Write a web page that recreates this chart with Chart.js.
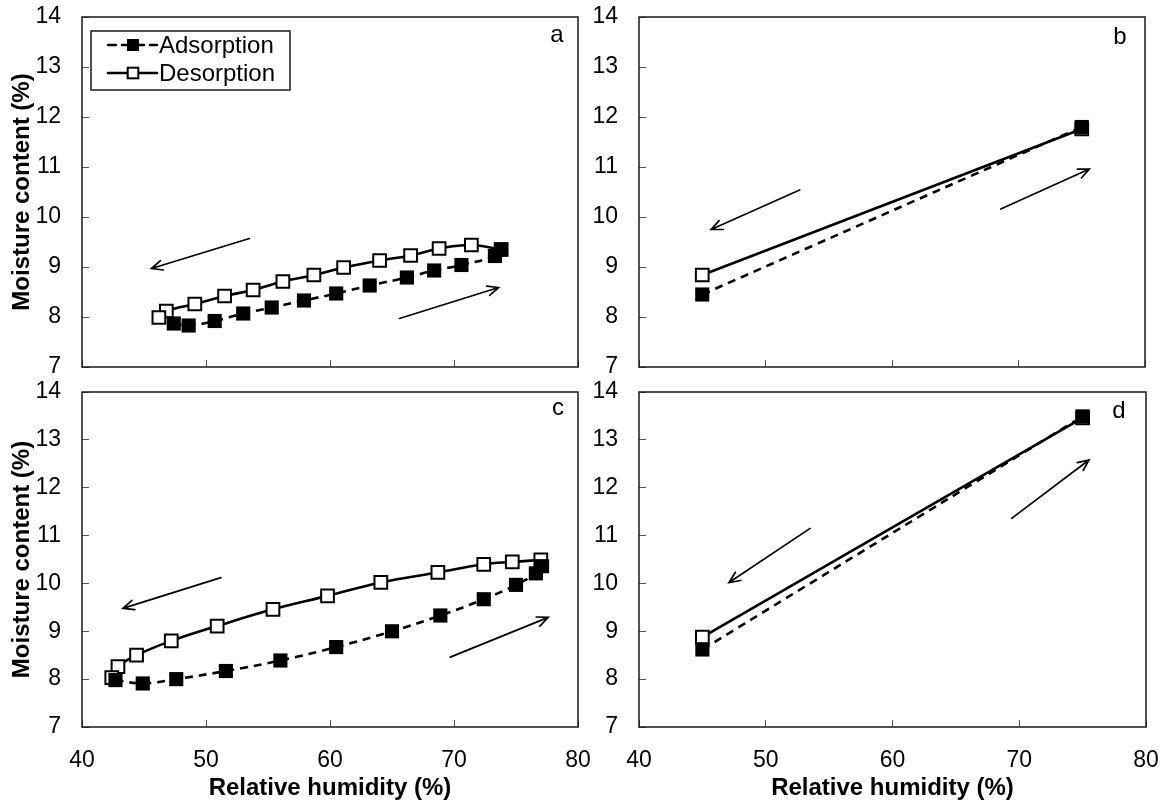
<!DOCTYPE html>
<html><head><meta charset="utf-8">
<script src="https://cdn.jsdelivr.net/npm/chart.js@4.4.1/dist/chart.umd.min.js"></script>
<style>
html,body{margin:0;padding:0;background:#fff;}
#wrap{position:relative;width:1160px;height:805px;overflow:hidden;background:#fff;}
canvas{position:absolute;}
</style></head><body>
<div id="wrap">
<canvas id="pa" width="580" height="380" style="left:0;top:0"></canvas>
<canvas id="pb" width="580" height="380" style="left:580px;top:0"></canvas>
<canvas id="pc" width="600" height="425" style="left:0;top:380px"></canvas>
<canvas id="pd" width="580" height="425" style="left:580px;top:380px"></canvas>
</div>
<script>
// ---------- data ----------
const rhTicks = [40, 50, 60, 70, 80];
const mcTicks = [7, 8, 9, 10, 11, 12, 13, 14];
const seriesNames = ['Adsorption', 'Desorption'];
const xTitle = 'Relative humidity (%)';
const yTitle = 'Moisture content (%)';
const panelLetters = ['a', 'b', 'c', 'd'];

// panel a
const aAdsRH = [47.4, 48.6, 50.7, 53.0, 55.3, 57.9, 60.5, 63.2, 66.2, 68.4, 70.6, 73.3, 73.8];
const aAdsMC = [7.87, 7.83, 7.92, 8.07, 8.19, 8.33, 8.47, 8.63, 8.79, 8.93, 9.04, 9.22, 9.35];
const aDesRH = [73.8, 71.4, 68.8, 66.5, 64.0, 61.1, 58.7, 56.2, 53.8, 51.5, 49.1, 46.8, 46.2];
const aDesMC = [9.35, 9.44, 9.37, 9.23, 9.13, 8.99, 8.84, 8.71, 8.54, 8.42, 8.26, 8.12, 7.99];
// panel b
const bAdsRH = [45, 75];
const bAdsMC = [8.45, 11.80];
const bDesRH = [75, 45];
const bDesMC = [11.76, 8.84];
// panel c
const cAdsRH = [42.7, 44.9, 47.6, 51.6, 56.0, 60.5, 65.0, 68.9, 72.4, 75.0, 76.6, 77.1];
const cAdsMC = [7.98, 7.91, 8.00, 8.17, 8.39, 8.67, 9.00, 9.33, 9.67, 9.97, 10.21, 10.36];
const cDesRH = [77.0, 74.7, 72.4, 68.7, 64.1, 59.8, 55.4, 50.9, 47.2, 44.4, 42.9, 42.4];
const cDesMC = [10.49, 10.45, 10.40, 10.23, 10.02, 9.74, 9.46, 9.11, 8.80, 8.50, 8.26, 8.03];
// panel d
const dAdsRH = [45, 75];
const dAdsMC = [8.62, 13.49];
const dDesRH = [75, 45];
const dDesMC = [13.46, 8.88];

// direction arrows (data units: from RH, from MC, to RH, to MC)
const aArrows = [[53.5, 9.57, 45.6, 8.97], [65.6, 7.97, 73.6, 8.59]];
const bArrows = [[52.7, 10.54, 45.7, 9.75], [68.6, 10.16, 75.6, 10.96]];
const cArrows = [[51.2, 10.12, 43.3, 9.48], [69.7, 8.46, 77.6, 9.29]];
const dArrows = [[53.5, 11.15, 47.1, 10.02], [69.4, 11.36, 75.5, 12.58]];

// ---------- rendering ----------
const FAM = '"Liberation Sans", Arial, Helvetica, sans-serif';
const zip = (xs, ys) => xs.map((v, i) => ({x: v, y: ys[i]}));

const adsStyle = {borderColor: '#000', borderWidth: 2.6, borderDash: [8, 6], tension: 0.4,
  pointStyle: 'rect', pointRadius: 10, pointBackgroundColor: '#000', pointBorderColor: '#000', pointBorderWidth: 0};
const desStyle = {borderColor: '#000', borderWidth: 2.6, borderDash: [], tension: 0.4,
  pointStyle: 'rect', pointRadius: 9, pointBackgroundColor: '#fff', pointBorderColor: '#000', pointBorderWidth: 2};

const framePlugin = {
  id: 'frame',
  afterDatasetsDraw(chart, args, opts) {
    const {ctx, chartArea: ca, scales: {x, y}} = chart;
    ctx.save();
    // arrows
    ctx.strokeStyle = '#000'; ctx.lineWidth = 1.7; ctx.lineCap = 'round'; ctx.lineJoin = 'miter'; ctx.setLineDash([]);
    (opts.arrows || []).forEach(a => {
      const x1 = x.getPixelForValue(a[0]), y1 = y.getPixelForValue(a[1]);
      const x2 = x.getPixelForValue(a[2]), y2 = y.getPixelForValue(a[3]);
      const ang = Math.atan2(y2 - y1, x2 - x1), L = 12, sp = 0.42;
      ctx.beginPath();
      ctx.moveTo(x1, y1); ctx.lineTo(x2, y2);
      ctx.moveTo(x2 - L * Math.cos(ang - sp), y2 - L * Math.sin(ang - sp));
      ctx.lineTo(x2, y2);
      ctx.lineTo(x2 - L * Math.cos(ang + sp), y2 - L * Math.sin(ang + sp));
      ctx.stroke();
    });
    // frame
    ctx.lineWidth = 1.5; ctx.strokeStyle = '#1a1a1a';
    ctx.strokeRect(ca.left, ca.top, ca.right - ca.left, ca.bottom - ca.top);
    // panel letter
    ctx.fillStyle = '#000'; ctx.font = '24px ' + FAM; ctx.textAlign = 'center'; ctx.textBaseline = 'middle';
    ctx.fillText(opts.letter, ca.right - opts.letterDx, ca.top + opts.letterDy);
    // legend
    if (opts.legend) {
      const lx = ca.left + 9, ly = ca.top + 14, lw = 199, lh = 59;
      ctx.fillStyle = '#fff'; ctx.fillRect(lx, ly, lw, lh);
      ctx.lineWidth = 1.5; ctx.strokeStyle = '#1a1a1a'; ctx.strokeRect(lx, ly, lw, lh);
      chart.data.datasets.forEach((ds, i) => {
        const cy = ly + 14 + i * 28;
        ctx.beginPath(); ctx.setLineDash(ds.borderDash || []);
        ctx.lineWidth = ds.borderWidth; ctx.strokeStyle = ds.borderColor;
        ctx.moveTo(lx + 17, cy); ctx.lineTo(lx + 66, cy); ctx.stroke();
        ctx.setLineDash([]);
        const s = (ds.pointRadius - 1.5) * Math.SQRT1_2;
        ctx.fillStyle = ds.pointBackgroundColor; ctx.fillRect(lx + 42 - s, cy - s, 2 * s, 2 * s);
        if (ds.pointBorderWidth) { ctx.lineWidth = ds.pointBorderWidth; ctx.strokeStyle = ds.pointBorderColor; ctx.strokeRect(lx + 42 - s, cy - s, 2 * s, 2 * s); }
        ctx.fillStyle = '#000'; ctx.textAlign = 'left'; ctx.textBaseline = 'middle'; ctx.font = '24px ' + FAM;
        ctx.fillText(ds.label, lx + 68, cy + 1);
      });
    }
    ctx.restore();
  }
};

function makePanel(id, p) {
  const tickFont = {size: 23, family: FAM};
  new Chart(document.getElementById(id), {
    type: 'scatter',
    data: {datasets: [
      Object.assign({label: seriesNames[0], data: zip(p.adsRH, p.adsMC), showLine: true}, adsStyle),
      Object.assign({label: seriesNames[1], data: zip(p.desRH, p.desMC), showLine: true}, desStyle)
    ]},
    options: {
      responsive: false, animation: false, events: [],
      layout: {autoPadding: false, padding: {left: 0, top: p.padTop, right: p.padRight, bottom: 0}},
      plugins: {legend: {display: false}, tooltip: {enabled: false},
        frame: {arrows: p.arrows, letter: p.letter, letterDx: p.letterDx, letterDy: p.letterDy, legend: p.legend}},
      scales: {
        x: {type: 'linear', min: 40, max: 80,
          afterBuildTicks: s => { s.ticks = rhTicks.map(v => ({value: v})); },
          ticks: {display: p.showX, padding: 27, font: tickFont, color: '#000', maxRotation: 0},
          grid: {drawOnChartArea: false, drawTicks: true, tickLength: -7, color: '#555', lineWidth: 1},
          border: {display: false},
          title: {display: p.showX, text: xTitle, color: '#000', font: {size: 24, weight: 'bold', family: FAM}, padding: {top: 0, bottom: 2}},
          afterFit: s => { s.height = p.xH; s.paddingLeft = 0; s.paddingRight = 0; }
        },
        y: {type: 'linear', min: 7, max: 14,
          afterBuildTicks: s => { s.ticks = mcTicks.map(v => ({value: v})); },
          ticks: {padding: 28, font: tickFont, color: '#000'},
          grid: {drawOnChartArea: false, drawTicks: true, tickLength: -7, color: '#555', lineWidth: 1},
          border: {display: false},
          title: {display: p.showY, text: yTitle, color: '#000', font: {size: 24, weight: 'bold', family: FAM}, padding: {top: 8, bottom: 0}},
          afterFit: s => { s.width = p.yW; s.paddingTop = 0; s.paddingBottom = 0; }
        }
      }
    },
    plugins: [framePlugin]
  });
}

makePanel('pa', {adsRH: aAdsRH, adsMC: aAdsMC, desRH: aDesRH, desMC: aDesMC, arrows: aArrows, letter: panelLetters[0],
  letterDx: 21, letterDy: 18, legend: true, showX: false, showY: true, yW: 82, xH: 13, padTop: 17, padRight: 2});
makePanel('pb', {adsRH: bAdsRH, adsMC: bAdsMC, desRH: bDesRH, desMC: bDesMC, arrows: bArrows, letter: panelLetters[1],
  letterDx: 25, letterDy: 20, legend: false, showX: false, showY: false, yW: 59, xH: 13, padTop: 17, padRight: 15});
makePanel('pc', {adsRH: cAdsRH, adsMC: cAdsMC, desRH: cDesRH, desMC: cDesMC, arrows: cArrows, letter: panelLetters[2],
  letterDx: 20, letterDy: 16, legend: false, showX: true, showY: true, yW: 82, xH: 78, padTop: 12, padRight: 22});
makePanel('pd', {adsRH: dAdsRH, adsMC: dAdsMC, desRH: dDesRH, desMC: dDesMC, arrows: dArrows, letter: panelLetters[3],
  letterDx: 27, letterDy: 19, legend: false, showX: true, showY: false, yW: 59, xH: 78, padTop: 12, padRight: 14});
</script>
</body></html>
